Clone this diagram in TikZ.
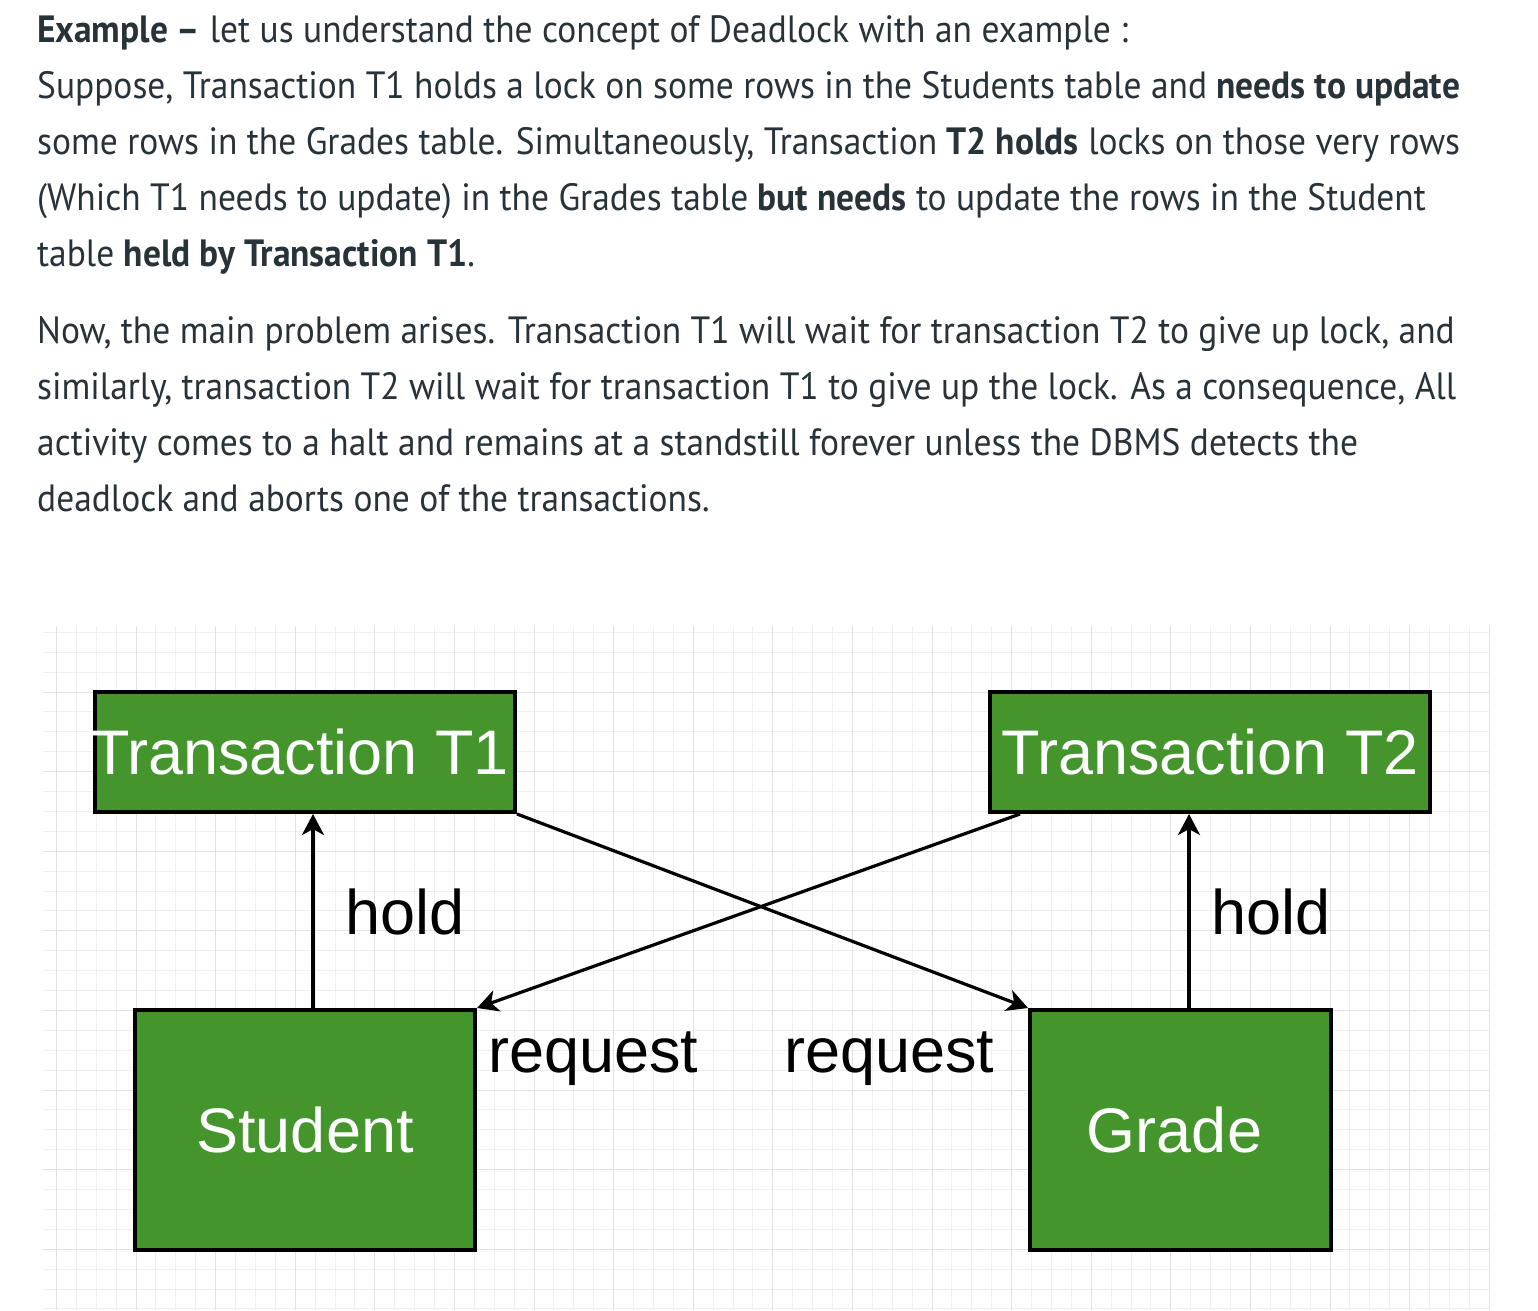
\documentclass[tikz,border=0pt]{standalone}
\usepackage{fontspec}
\usetikzlibrary{arrows.meta}
\setmainfont{Liberation Sans}
\newfontfamily\bodyfont[FakeStretch=0.933]{PT Sans}
\definecolor{txt}{HTML}{273239}
\definecolor{boxgreen}{RGB}{67,149,44}
\definecolor{gridminor}{HTML}{F0F0F0}
\definecolor{gridmajor}{HTML}{E2E2E2}
\begin{document}
\begin{tikzpicture}[x=1pt,y=-1pt,
  para/.style={anchor=base west, inner sep=0pt, text=txt, font=\bodyfont\fontsize{38}{38}\selectfont},
  box/.style={draw=black, line width=4pt, fill=boxgreen, inner sep=0pt, text=white, font=\fontsize{63}{63}\selectfont},
  lbl/.style={anchor=base west, inner sep=0pt, text=black, font=\fontsize{63}{63}\selectfont},
  arr/.style={draw=black, line width=3.2pt, -{Stealth[length=21pt,width=22pt,inset=6pt]}},
  minorline/.style={draw=gridminor, line width=1pt},
  majorline/.style={draw=gridmajor, line width=1pt}]
\useasboundingbox (0,0) rectangle (1538,1310);
\fill[white] (0,0) rectangle (1538,1310);
% grid
\foreach \k in {0,...,72} \draw[minorline] ({56.4+19.9*\k},626) -- ({56.4+19.9*\k},1310);
\foreach \k in {0,...,34} \draw[minorline] (43,{632.3+19.9*\k}) -- (1489,{632.3+19.9*\k});
\foreach \k in {0,...,18} \draw[majorline] ({56.4+79.6*\k},626) -- ({56.4+79.6*\k},1310);
\foreach \k in {0,...,7} \draw[majorline] (43,{692+79.6*\k}) -- (1489,{692+79.6*\k});
% text
\node[para] (p1) at (37,42) {\textbf{Example –} let us understand the concept of Deadlock with an example :};
\node[para] (p2) at (37,98) {Suppose, Transaction T1 holds a lock on some rows in the Students table and \textbf{needs to update}};
\node[para] (p3) at (37,154) {some rows in the Grades table. Simultaneously, Transaction \textbf{T2 holds} locks on those very rows};
\node[para] (p4) at (37,210) {(Which T1 needs to update) in the Grades table \textbf{but needs} to update the rows in the Student};
\node[para] (p5) at (37,266) {table \textbf{held by Transaction T1}.};
\node[para] (p6) at (37,343) {Now, the main problem arises. Transaction T1 will wait for transaction T2 to give up lock, and};
\node[para] (p7) at (37,399) {similarly, transaction T2 will wait for transaction T1 to give up the lock. As a consequence, All};
\node[para] (p8) at (37,455) {activity comes to a halt and remains at a standstill forever unless the DBMS detects the};
\node[para] (p9) at (37,511) {deadlock and aborts one of the transactions.};
% boxes
\node[box, minimum width=420pt, minimum height=120pt] (t1) at (305,752) {\makebox[0pt]{Transaction T1\hspace{10pt}}};
\node[box, minimum width=440pt, minimum height=120pt] (t2) at (1210,752) {\makebox[0pt]{Transaction T2}};
\node[box, minimum width=340pt, minimum height=240pt] (st) at (305,1130) {\makebox[0pt]{Student}};
\node[box, minimum width=301pt, minimum height=240pt] (gr) at (1180.5,1130) {\makebox[0pt]{Grade\hspace{12pt}}};
% connectors
\coordinate (sa) at ([xshift=8pt]st.north);
\coordinate (ga) at ([xshift=8.5pt]gr.north);
\coordinate (t2a) at ([xshift=32pt]t2.south west);
\draw[arr] (sa) -- (sa |- t1.south);
\draw[arr] (ga) -- (ga |- t2.south);
\draw[arr] (t1.south east) -- (gr.north west);
\draw[arr] (t2a) -- (st.north east);
% labels
\node[lbl] (h1) at (345,934) {hold};
\node[lbl] (h2) at (1211,934) {hold};
\node[lbl] (r1) at (488,1072) {request};
\node[lbl] (r2) at (784,1072) {request};
\end{tikzpicture}
\end{document}
